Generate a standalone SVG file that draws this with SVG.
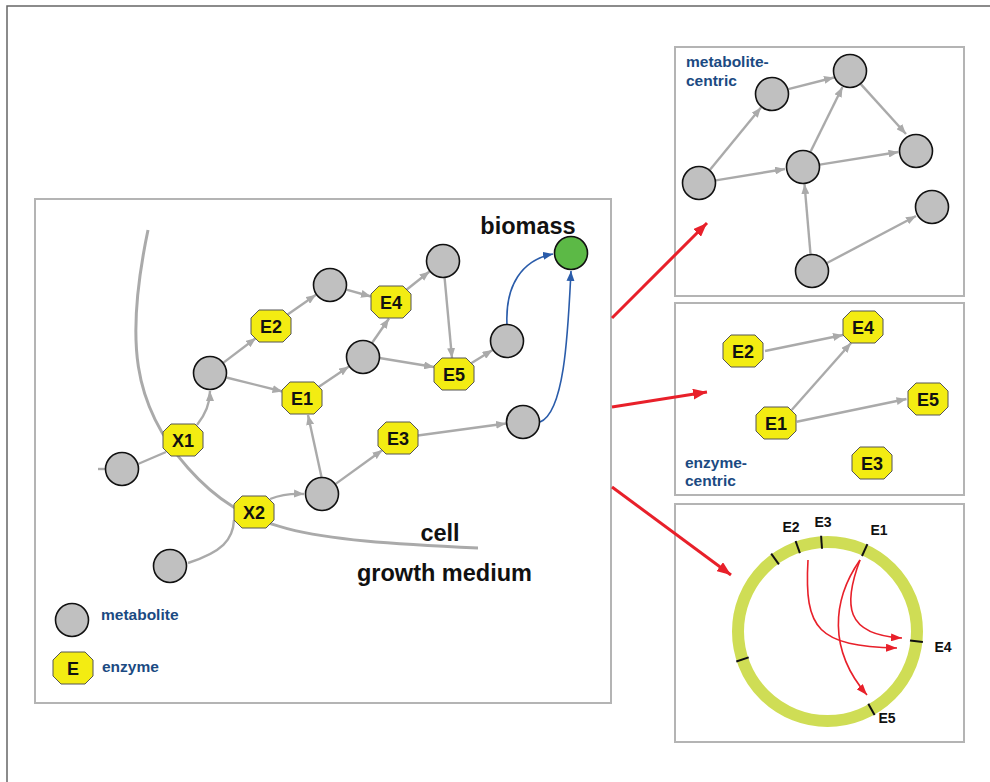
<svg xmlns="http://www.w3.org/2000/svg" xmlns:xlink="http://www.w3.org/1999/xlink" width="990" height="782" viewBox="0 0 990 782">
  <style>
    .frame { fill: none; stroke: #666; stroke-width: 1.5; }
    .panel { fill: #fff; stroke: #b4b4b4; stroke-width: 2; }
    .met { fill: #c0c0c0; stroke: #111; stroke-width: 1.6; }
    .bio { fill: #5cb946; stroke: #111; stroke-width: 1.6; }
    .enz { fill: #f3ec12; stroke: #555; stroke-width: 1; }
    .elab { font-family: "Liberation Sans", Arial, sans-serif; font-weight: bold; font-size: 18px; fill: #111; text-anchor: middle; }
    .big { font-family: "Liberation Sans", Arial, sans-serif; font-weight: bold; font-size: 23.5px; fill: #111; }
    .note { font-family: "Liberation Sans", Arial, sans-serif; font-weight: bold; font-size: 15.5px; fill: #1b4a82; }
    .clab { font-family: "Liberation Sans", Arial, sans-serif; font-weight: bold; font-size: 14px; fill: #111; text-anchor: middle; }
    .edge { fill: none; stroke: #aaa; stroke-width: 2.4; }
    .edgea { fill: none; stroke: #aaa; stroke-width: 2.4; marker-end: url(#ag); }
    .flux { fill: none; stroke: #2a5caa; stroke-width: 1.6; marker-end: url(#ab); }
    .map { fill: none; stroke: #e8202a; stroke-width: 3; marker-end: url(#ar); }
    .chord { fill: none; stroke: #e8202a; stroke-width: 1.6; marker-end: url(#ars); }
    .membrane { fill: none; stroke: #aaa; stroke-width: 3; }
    .tick { stroke: #111; stroke-width: 2; }
  </style>
  <defs>
    <polygon id="oct" points="-12,-16 12,-16 20,-8 20,8 12,16 -12,16 -20,8 -20,-8"/>
    <marker id="ag" markerUnits="userSpaceOnUse" markerWidth="10" markerHeight="8" refX="10" refY="4" orient="auto">
      <path d="M0,0 L10,4 L0,8 z" fill="#aaa"/>
    </marker>
    <marker id="ab" markerUnits="userSpaceOnUse" markerWidth="10" markerHeight="8" refX="10" refY="4" orient="auto">
      <path d="M0,0 L10,4 L0,8 z" fill="#2a5caa"/>
    </marker>
    <marker id="ar" markerUnits="userSpaceOnUse" markerWidth="14" markerHeight="11" refX="14" refY="5.5" orient="auto">
      <path d="M0,0 L14,5.5 L0,11 z" fill="#e8202a"/>
    </marker>
    <marker id="ars" markerUnits="userSpaceOnUse" markerWidth="11" markerHeight="8" refX="11" refY="4" orient="auto">
      <path d="M0,0 L11,4 L0,8 z" fill="#e8202a"/>
    </marker>
  </defs>

  <rect width="990" height="782" fill="#fff"/>
  <!-- page frame: top and left rules -->
  <path class="frame" d="M7,782 L7,6 L990,6"/>

  <!-- panels -->
  <rect class="panel" x="35" y="199" width="576" height="504"/>
  <rect class="panel" x="675" y="47" width="289" height="249"/>
  <rect class="panel" x="675" y="303" width="289" height="192"/>
  <rect class="panel" x="675" y="504" width="289" height="238"/>

  <!-- cell membrane -->
  <path class="membrane" d="M148,230 C125,340 132,405 188,468 S300,540 478,548"/>

  <!-- connectors -->
  <g id="connectors">
    <!-- whole-cell network -->
    <path class="edge" d="M98,469 L106,469"/>
    <path class="edge" d="M138,464 Q152,458 166,452"/>
    <path class="edgea" d="M197,425 C205,415 210,405 210,391"/>
    <path class="edgea" d="M223.5,362.6 L256,338"/>
    <path class="edgea" d="M286.6,315.2 L316,294.7"/>
    <path class="edgea" d="M346.4,289.6 L371,296.5"/>
    <path class="edgea" d="M405.9,290.2 L429.5,271.5"/>
    <path class="edgea" d="M444.6,277.9 L452,358"/>
    <path class="edgea" d="M226.4,377.5 L282.5,391.5"/>
    <path class="edgea" d="M317.8,387.4 L348.9,366.5"/>
    <path class="edgea" d="M372,343 L389,318.5"/>
    <path class="edgea" d="M379.5,358 L434,367"/>
    <path class="edgea" d="M470,364 L492.6,350"/>
    <path class="edgea" d="M321.5,477 L308,415"/>
    <path class="edgea" d="M335.7,483.9 L382.5,450"/>
    <path class="edgea" d="M417.8,435.5 L506,423.5"/>
    <path class="edgea" d="M270,499 Q285,493 304,494"/>
    <path class="edge" d="M188,563 C222,552 233,540 234,520"/>
    <path class="flux" d="M507,325 C505,285 522,260 553,254"/>
    <path class="flux" d="M540,422 C565,412 568,330 571,271"/>

    <!-- mapping arrows -->
    <path class="map" d="M612,318 L707,223"/>
    <path class="map" d="M612,407 L707,392"/>
    <path class="map" d="M612,487 L731,575"/>

    <!-- metabolite-centric -->
    <path class="edgea" d="M709.8,169.9 L761,107.5"/>
    <path class="edgea" d="M788.3,89.2 L834,77.5"/>
    <path class="edgea" d="M810.5,151.7 L842.5,87"/>
    <path class="edgea" d="M860.8,84.1 L906,134"/>
    <path class="edgea" d="M715.8,180.4 L785,169"/>
    <path class="edgea" d="M819.8,164.6 L898.5,152"/>
    <path class="edgea" d="M810.5,254 L804.5,184"/>
    <path class="edgea" d="M827,263 L916,216"/>

    <!-- enzyme-centric -->
    <path class="edgea" d="M765,351 L843,335"/>
    <path class="edgea" d="M791.7,410 L851,343"/>
    <path class="edgea" d="M796.7,421.7 L906.5,399"/>

    <!-- chord links -->
    <path class="chord" d="M808,560 C804,630 818,646 897,648"/>
    <path class="chord" d="M860,560 C843,605 845,635 902,638"/>
    <path class="chord" d="M860,560 C832,600 828,650 867,695"/>
  </g>

  <!-- whole-cell nodes -->
  <g id="m-in1"><circle class="met" cx="122" cy="469" r="16.5"/></g>
  <g id="x1"><use href="#oct" class="enz" x="183" y="440"/><text class="elab" x="183" y="446.5">X1</text></g>
  <g id="m-b"><circle class="met" cx="210" cy="373" r="16.5"/></g>
  <g id="e2"><use href="#oct" class="enz" x="271" y="326"/><text class="elab" x="271" y="332.5">E2</text></g>
  <g id="m-c"><circle class="met" cx="330" cy="285" r="16.5"/></g>
  <g id="e4"><use href="#oct" class="enz" x="391" y="302"/><text class="elab" x="391" y="308.5">E4</text></g>
  <g id="m-d"><circle class="met" cx="443" cy="261" r="16.5"/></g>
  <g id="m-e"><circle class="met" cx="363" cy="357" r="16.5"/></g>
  <g id="e5"><use href="#oct" class="enz" x="454" y="374"/><text class="elab" x="454" y="380.5">E5</text></g>
  <g id="m-f"><circle class="met" cx="507" cy="341" r="16.5"/></g>
  <g id="biomass"><circle class="bio" cx="571" cy="253" r="16.5"/><text class="big" x="528" y="234" text-anchor="middle">biomass</text></g>
  <g id="e1"><use href="#oct" class="enz" x="302" y="398"/><text class="elab" x="302" y="404.5">E1</text></g>
  <g id="m-g"><circle class="met" cx="523" cy="422" r="16.5"/></g>
  <g id="e3"><use href="#oct" class="enz" x="398" y="438"/><text class="elab" x="398" y="444.5">E3</text></g>
  <g id="m-h"><circle class="met" cx="322" cy="494" r="16.5"/></g>
  <g id="x2"><use href="#oct" class="enz" x="254" y="512"/><text class="elab" x="254" y="518.5">X2</text></g>
  <g id="m-in2"><circle class="met" cx="170" cy="566" r="16.5"/></g>

  <text class="big" x="440" y="541" text-anchor="middle">cell</text>
  <text class="big" x="357" y="581">growth medium</text>

  <!-- legend -->
  <g id="legend">
    <circle class="met" cx="72" cy="620" r="16.5"/>
    <text class="note" x="101" y="620">metabolite</text>
    <use href="#oct" class="enz" x="73" y="668"/>
    <text class="elab" x="73" y="674.5">E</text>
    <text class="note" x="102" y="672">enzyme</text>
  </g>

  <!-- metabolite-centric view -->
  <g id="mc-label"><text class="note" x="686" y="67">metabolite-</text><text class="note" x="686" y="86">centric</text></g>
  <g id="mc-a"><circle class="met" cx="772" cy="94" r="16.5"/></g>
  <g id="mc-b"><circle class="met" cx="850" cy="71" r="16.5"/></g>
  <g id="mc-c"><circle class="met" cx="916" cy="151" r="16.5"/></g>
  <g id="mc-d"><circle class="met" cx="803" cy="167" r="16.5"/></g>
  <g id="mc-e"><circle class="met" cx="699" cy="183" r="16.5"/></g>
  <g id="mc-f"><circle class="met" cx="932" cy="207" r="16.5"/></g>
  <g id="mc-g"><circle class="met" cx="812" cy="271" r="16.5"/></g>

  <!-- enzyme-centric view -->
  <g id="ec-e4"><use href="#oct" class="enz" x="863" y="327"/><text class="elab" x="863" y="333.5">E4</text></g>
  <g id="ec-e2"><use href="#oct" class="enz" x="743" y="351"/><text class="elab" x="743" y="357.5">E2</text></g>
  <g id="ec-e5"><use href="#oct" class="enz" x="928" y="399"/><text class="elab" x="928" y="405.5">E5</text></g>
  <g id="ec-e1"><use href="#oct" class="enz" x="776" y="423"/><text class="elab" x="776" y="429.5">E1</text></g>
  <g id="ec-e3"><use href="#oct" class="enz" x="872" y="463"/><text class="elab" x="872" y="469.5">E3</text></g>
  <g id="ec-label"><text class="note" x="685" y="468">enzyme-</text><text class="note" x="685" y="486">centric</text></g>

  <!-- circular view -->
  <g id="ring">
    <circle cx="827.5" cy="631.5" r="89.5" fill="none" stroke="#cfdd55" stroke-width="12"/>
    <line class="tick" x1="778.9" y1="564.3" x2="771.2" y2="553.7"/>
    <line class="tick" x1="799.9" y1="553.2" x2="795.6" y2="541.0"/>
    <line class="tick" x1="822.0" y1="548.7" x2="821.1" y2="535.7"/>
    <line class="tick" x1="862.0" y1="556.0" x2="867.4" y2="544.2"/>
    <line class="tick" x1="910.0" y1="640.6" x2="922.9" y2="642.1"/>
    <line class="tick" x1="868.3" y1="703.8" x2="874.6" y2="715.1"/>
    <line class="tick" x1="748.7" y1="657.4" x2="736.3" y2="661.5"/>
    <text class="clab" x="791" y="532">E2</text>
    <text class="clab" x="823" y="527">E3</text>
    <text class="clab" x="879" y="535">E1</text>
    <text class="clab" x="943" y="652">E4</text>
    <text class="clab" x="887" y="723">E5</text>
  </g>
</svg>
